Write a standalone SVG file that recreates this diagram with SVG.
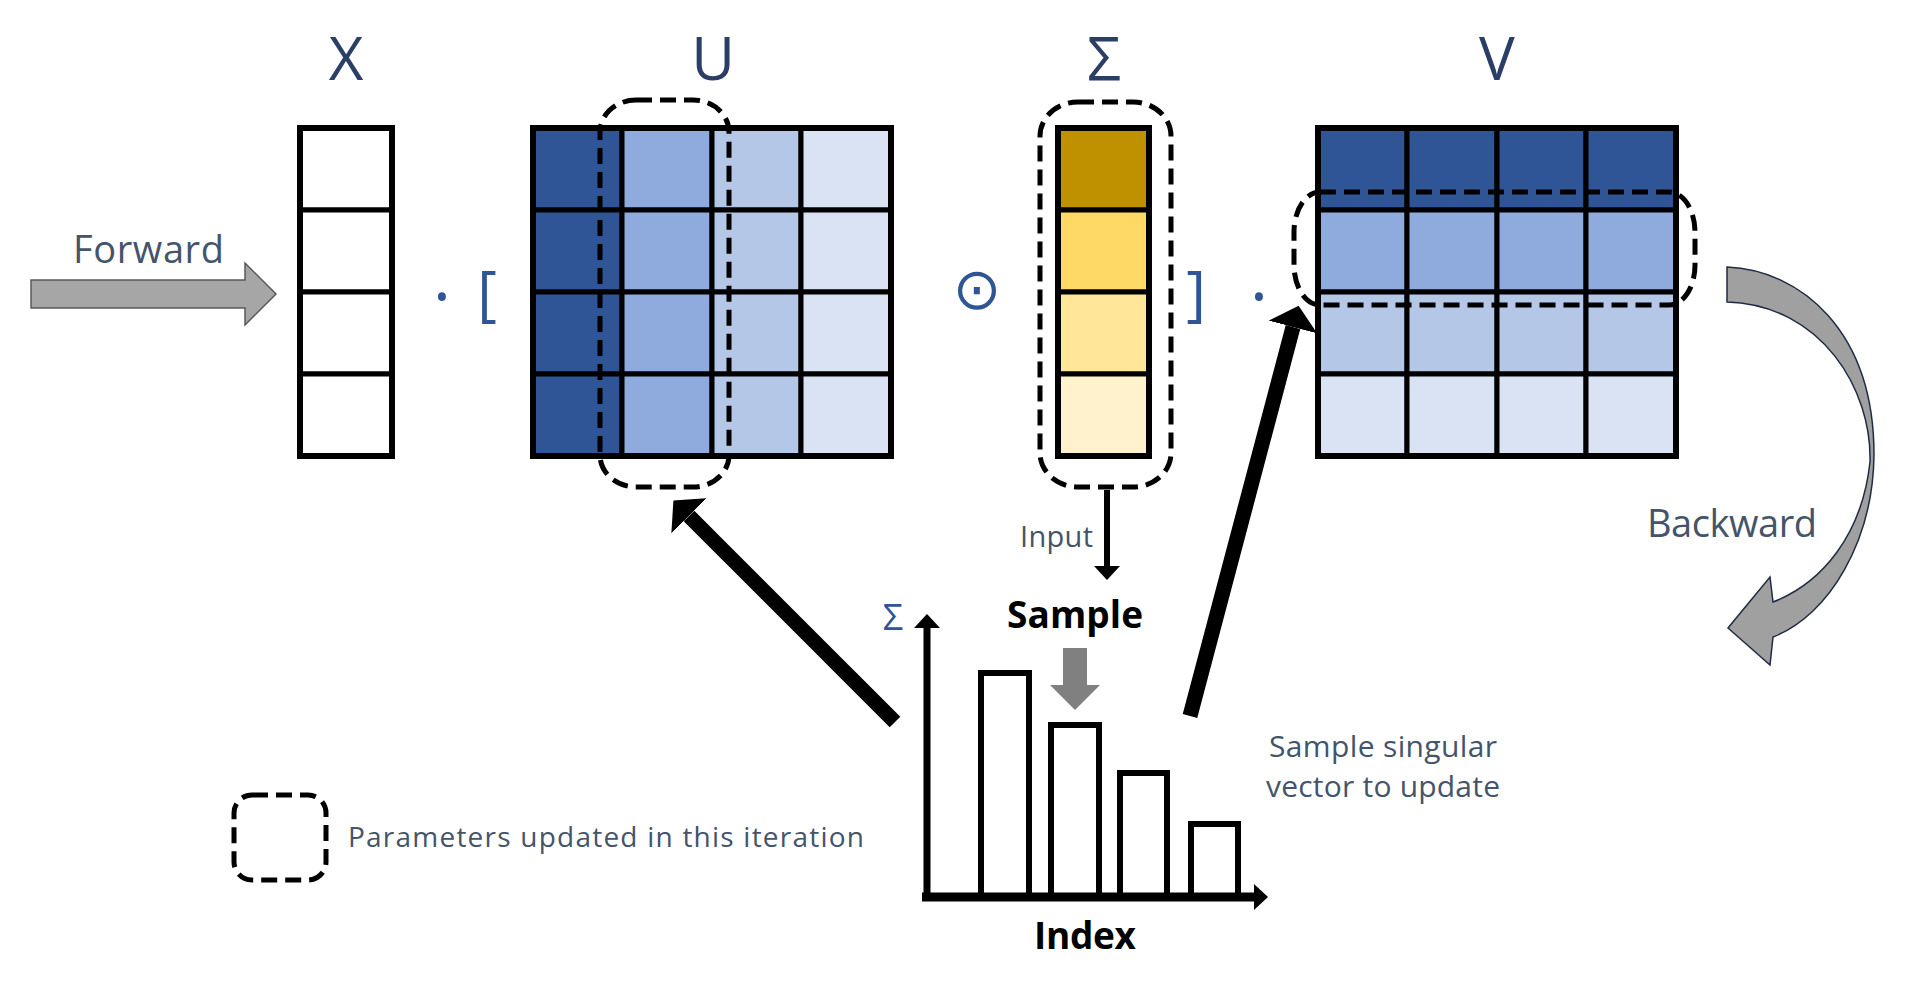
<svg xmlns="http://www.w3.org/2000/svg" width="1920" height="990" viewBox="0 0 1920 990">
<style>
.cell{stroke:#000;stroke-width:5}
.outer{fill:none;stroke:#000;stroke-width:6}
.dash{fill:none;stroke:#000;stroke-width:5;stroke-dasharray:16 8}
.big{font-family:"Open Sans","Liberation Sans",sans-serif;font-size:60px;fill:#2B3F66;text-anchor:middle}
.lbl{font-family:"Open Sans","Liberation Sans",sans-serif;fill:#44546A}
.bold{font-family:"Open Sans","Liberation Sans",sans-serif;font-weight:bold;fill:#000;text-anchor:middle}
.op{font-family:"Open Sans","Liberation Sans",sans-serif;fill:#2F5597;text-anchor:middle}
.bar{fill:#fff;stroke:#000;stroke-width:6}
.c1{fill:#2F5597}.c2{fill:#8FAADC}.c3{fill:#B4C7E7}.c4{fill:#DAE3F3}
.y1{fill:#BF9000}.y2{fill:#FFD966}.y3{fill:#FFE699}.y4{fill:#FFF2CC}
</style>
<defs>
<marker id="bigHead" markerUnits="userSpaceOnUse" markerWidth="22" markerHeight="50" viewBox="0 0 22 50" refX="0" refY="25" orient="auto">
<path d="M0,0 L22,25 L0,50 Z" fill="#000"/>
</marker>
<marker id="smallHead" markerUnits="userSpaceOnUse" markerWidth="14" markerHeight="26" viewBox="0 0 14 26" refX="0" refY="13" orient="auto">
<path d="M0,0 L14,13 L0,26 Z" fill="#000"/>
</marker>
</defs>
<rect width="1920" height="990" fill="#fff"/>

<!-- labels -->
<text class="big" x="346" y="80">X</text>
<text class="big" x="713" y="80">U</text>
<text class="big" x="1104" y="80">Σ</text>
<text class="big" x="1497" y="80">V</text>

<!-- X matrix -->
<g id="matrix-x">
<rect class="cell" x="300" y="128" width="92" height="82" fill="#fff"/>
<rect class="cell" x="300" y="210" width="92" height="82" fill="#fff"/>
<rect class="cell" x="300" y="292" width="92" height="82" fill="#fff"/>
<rect class="cell" x="300" y="374" width="92" height="82" fill="#fff"/>
<rect class="outer" x="300" y="128" width="92" height="328"/>
</g>

<text class="op" x="442" y="320" font-size="68">·</text>
<text class="op" x="487" y="314" font-size="60">[</text>

<!-- U matrix -->
<g id="matrix-u">
<rect class="cell c1" x="533" y="128" width="89" height="82"/>
<rect class="cell c2" x="622" y="128" width="90" height="82"/>
<rect class="cell c3" x="712" y="128" width="89" height="82"/>
<rect class="cell c4" x="801" y="128" width="90" height="82"/>
<rect class="cell c1" x="533" y="210" width="89" height="82"/>
<rect class="cell c2" x="622" y="210" width="90" height="82"/>
<rect class="cell c3" x="712" y="210" width="89" height="82"/>
<rect class="cell c4" x="801" y="210" width="90" height="82"/>
<rect class="cell c1" x="533" y="292" width="89" height="82"/>
<rect class="cell c2" x="622" y="292" width="90" height="82"/>
<rect class="cell c3" x="712" y="292" width="89" height="82"/>
<rect class="cell c4" x="801" y="292" width="90" height="82"/>
<rect class="cell c1" x="533" y="374" width="89" height="82"/>
<rect class="cell c2" x="622" y="374" width="90" height="82"/>
<rect class="cell c3" x="712" y="374" width="89" height="82"/>
<rect class="cell c4" x="801" y="374" width="90" height="82"/>
<rect class="outer" x="533" y="128" width="358" height="328"/>
<rect class="dash" x="600" y="100" width="129" height="387" rx="36" ry="32"/>
</g>

<text x="977" y="309" font-family="DejaVu Sans, sans-serif" font-size="58" fill="#2F5597" text-anchor="middle">⊙</text>

<!-- Sigma vector -->
<g id="matrix-sigma">
<rect class="cell y1" x="1058" y="128" width="91" height="82"/>
<rect class="cell y2" x="1058" y="210" width="91" height="82"/>
<rect class="cell y3" x="1058" y="292" width="91" height="82"/>
<rect class="cell y4" x="1058" y="374" width="91" height="82"/>
<rect class="outer" x="1058" y="128" width="91" height="328"/>
<rect class="dash" x="1040" y="102" width="131" height="385" rx="38" ry="34"/>
</g>

<text class="op" x="1196" y="314" font-size="60">]</text>
<text class="op" x="1259" y="320" font-size="68">·</text>

<!-- V matrix -->
<g id="matrix-v">
<rect class="cell c1" x="1318" y="128" width="89" height="82"/>
<rect class="cell c1" x="1407" y="128" width="90" height="82"/>
<rect class="cell c1" x="1497" y="128" width="89" height="82"/>
<rect class="cell c1" x="1586" y="128" width="90" height="82"/>
<rect class="cell c2" x="1318" y="210" width="89" height="82"/>
<rect class="cell c2" x="1407" y="210" width="90" height="82"/>
<rect class="cell c2" x="1497" y="210" width="89" height="82"/>
<rect class="cell c2" x="1586" y="210" width="90" height="82"/>
<rect class="cell c3" x="1318" y="292" width="89" height="82"/>
<rect class="cell c3" x="1407" y="292" width="90" height="82"/>
<rect class="cell c3" x="1497" y="292" width="89" height="82"/>
<rect class="cell c3" x="1586" y="292" width="90" height="82"/>
<rect class="cell c4" x="1318" y="374" width="89" height="82"/>
<rect class="cell c4" x="1407" y="374" width="90" height="82"/>
<rect class="cell c4" x="1497" y="374" width="89" height="82"/>
<rect class="cell c4" x="1586" y="374" width="90" height="82"/>
<rect class="outer" x="1318" y="128" width="358" height="328"/>
<rect class="dash" x="1294" y="192" width="401" height="113" rx="26" ry="40"/>
</g>

<!-- texts -->
<text class="lbl" x="73" y="263" font-size="38" textLength="151">Forward</text>
<text class="lbl" x="1647" y="537" font-size="38" textLength="170">Backward</text>
<text class="lbl" x="1093" y="547" font-size="29" text-anchor="end" textLength="73">Input</text>
<text class="bold" x="1075" y="628" font-size="37" textLength="136">Sample</text>
<text class="bold" x="1085" y="949" font-size="37" textLength="102">Index</text>
<text class="op" x="893" y="630" font-size="36">Σ</text>
<text class="lbl" x="1383" y="757" font-size="30" text-anchor="middle" textLength="228">Sample singular</text>
<text class="lbl" x="1383" y="797" font-size="30" text-anchor="middle" textLength="234">vector to update</text>

<!-- chart -->
<g id="chart">
<rect class="bar" x="981" y="673" width="48" height="224"/>
<rect class="bar" x="1051" y="725" width="48" height="172"/>
<rect class="bar" x="1120" y="773" width="47" height="124"/>
<rect class="bar" x="1191" y="824" width="47" height="73"/>
<line x1="927" y1="901" x2="927" y2="628" stroke="#000" stroke-width="7" marker-end="url(#smallHead)"/>
<line x1="922" y1="897" x2="1254" y2="897" stroke="#000" stroke-width="9" marker-end="url(#smallHead)"/>
<polygon points="1063,648 1087,648 1087,685 1100,685 1075,710 1050,685 1063,685" fill="#808080"/>
</g>

<!-- legend -->
<g id="legend">
<rect class="dash" x="234" y="795" width="92" height="85" rx="18" ry="18"/>
<text class="lbl" x="348" y="847" font-size="28" textLength="516">Parameters updated in this iteration</text>
</g>

<!-- connectors -->
<g id="connectors">
<polygon points="31,280 245,280 245,263 276,294 245,325 245,308 31,308" fill="#A6A6A6" stroke="#595959" stroke-width="1.5"/>
<path d="M1727,267 C1800,270 1874,330 1874,455 C1873,540 1830,615 1773,637 L1770,665 L1728,628 L1770,577 L1773,602 C1822,583 1862,535 1870,462 C1872,390 1822,305 1727,302 Z" fill="#A0A0A0" stroke="#1F2A44" stroke-width="1.5"/>
<line x1="1107" y1="490" x2="1107" y2="566" stroke="#000" stroke-width="6" marker-end="url(#smallHead)"/>
<line x1="895" y1="722" x2="689" y2="516" stroke="#000" stroke-width="15" marker-end="url(#bigHead)"/>
<line x1="1190" y1="716" x2="1293" y2="327" stroke="#000" stroke-width="15" marker-end="url(#bigHead)"/>
</g>
</svg>
